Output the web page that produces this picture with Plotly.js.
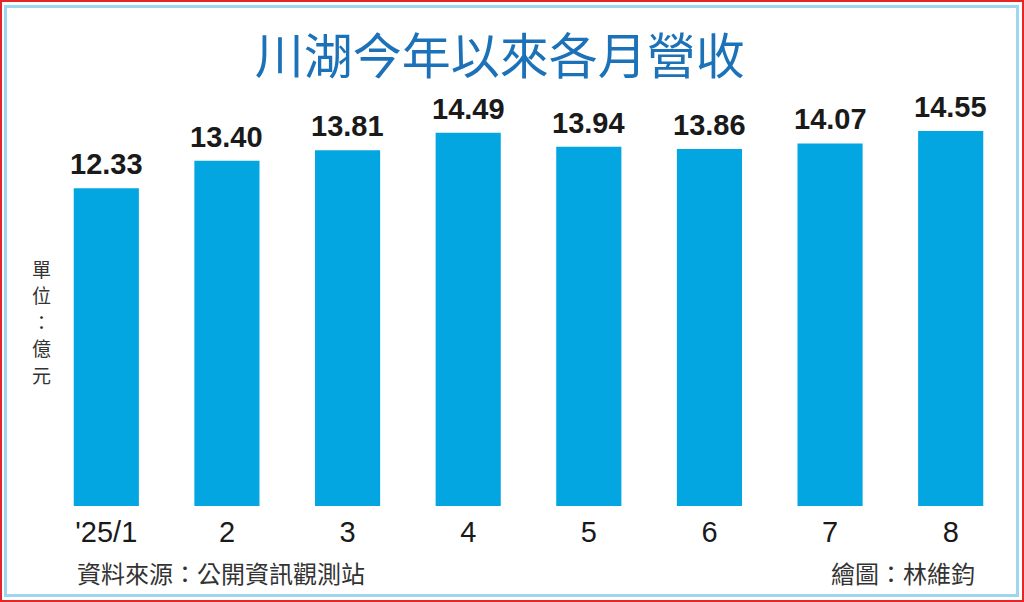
<!DOCTYPE html>
<html>
<head>
<meta charset="utf-8">
<script src="https://cdn.plot.ly/plotly-3.0.1.min.js"></script>
<style>
  html, body { margin: 0; padding: 0; background: #fff; }
  #frame { position: absolute; left: 0; top: 0; width: 1024px; height: 602px; box-sizing: border-box; border: 2px solid #e52629; }
  #inner { position: absolute; left: 2px; top: 3px; right: 3px; bottom: 3px; border: 3px solid #9fd6ef; }
  #chart { position: absolute; left: 0; top: 0; width: 1024px; height: 602px; }
</style>
</head>
<body>
<div id="frame"><div id="inner"></div></div>
<div id="chart"></div>
<script>
var months = ["'25/1", '2', '3', '4', '5', '6', '7', '8'];
var revenue = [12.33, 13.40, 13.81, 14.49, 13.94, 13.86, 14.07, 14.55];
var unitChars = ['單', '位', '：', '億', '元'];

var barColor = '#03a6e0';
var cjk = '"Noto Sans CJK TC", "Noto Sans", sans-serif';
var num = '"Liberation Sans", Arial, sans-serif';

function createGraph(){
  var bars = {
    type: 'bar',
    x: months,
    y: revenue,
    marker: { color: barColor },
    hoverinfo: 'none'
  };

  // value labels above each bar (x as category index, "2" would be read as a number)
  var labels = revenue.map(function(v, i){
    return {
      x: i, y: v, xref: 'x', yref: 'y',
      text: v.toFixed(2),
      showarrow: false, yanchor: 'bottom', yshift: 6,
      font: { family: num, size: 29, color: '#1a1a1a', weight: 'bold' }
    };
  });

  // vertical unit label, one char per line
  unitChars.forEach(function(c, i){
    labels.push({
      xref: 'paper', yref: 'paper', x: -0.005, y: 0.422,
      yshift: (2 - i) * 26.5,
      text: c,
      showarrow: false, xanchor: 'center', yanchor: 'middle',
      font: { family: cjk, size: 19, color: '#333' }
    });
  });

  labels.push({
    xref: 'paper', yref: 'paper', x: 0.030, y: -0.151,
    text: '資料來源：公開資訊觀測站',
    showarrow: false, xanchor: 'left', yanchor: 'middle',
    font: { family: cjk, size: 24, color: '#333' }
  });
  labels.push({
    xref: 'paper', yref: 'paper', x: 0.965, y: -0.151,
    text: '繪圖：林維鈞',
    showarrow: false, xanchor: 'right', yanchor: 'middle',
    font: { family: cjk, size: 24, color: '#333' }
  });

  var layout = {
    width: 1024, height: 602,
    margin: { l: 46, r: 13, t: 68, b: 96 },
    paper_bgcolor: 'rgba(0,0,0,0)',
    plot_bgcolor: 'rgba(0,0,0,0)',
    showlegend: false,
    bargap: 0.46,
    title: {
      text: '川湖今年以來各月營收',
      font: { family: cjk, size: 49, color: '#1c72b8' },
      xref: 'container', x: 0.488, xanchor: 'center',
      yref: 'container', y: 0.905, yanchor: 'middle'
    },
    xaxis: {
      type: 'category',
      showgrid: false, zeroline: false, showline: false, ticks: '',
      ticklabelstandoff: 6,
      tickfont: { family: num, size: 29, color: '#1a1a1a' }
    },
    yaxis: {
      range: [0, 17],
      visible: false
    },
    annotations: labels
  };

  Plotly.newPlot('chart', [bars], layout, { staticPlot: true });
}

createGraph();
</script>
</body>
</html>
